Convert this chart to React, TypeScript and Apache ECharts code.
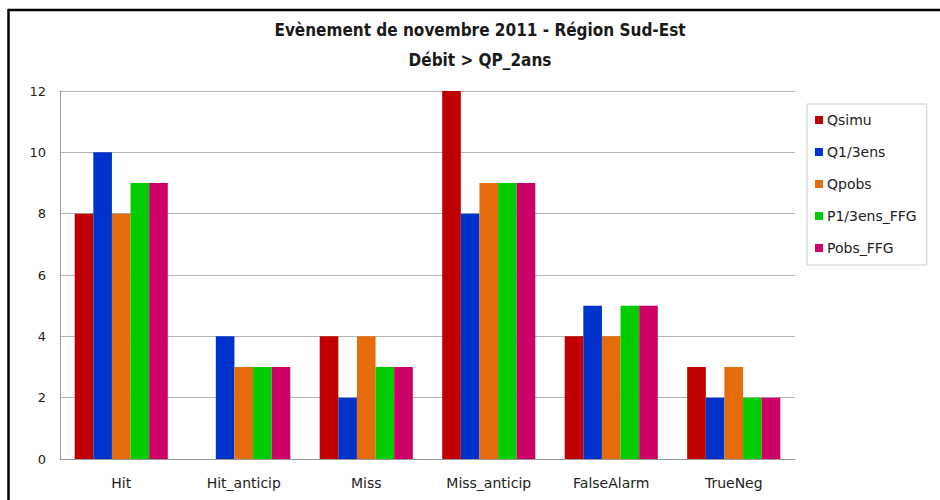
import React, { useEffect, useRef } from "react";
import * as echarts from "echarts";

const categories = ["Hit", "Hit_anticip", "Miss", "Miss_anticip", "FalseAlarm", "TrueNeg"];
const seriesNames = ["Qsimu", "Q1/3ens", "Qpobs", "P1/3ens_FFG", "Pobs_FFG"];
const qsimu = [8, 0, 4, 12, 4, 3];
const q13ens = [10, 4, 2, 8, 5, 2];
const qpobs = [8, 3, 4, 9, 4, 3];
const p13ensFFG = [9, 3, 3, 9, 5, 2];
const pobsFFG = [9, 3, 3, 9, 5, 2];
const colors = ["#C00000", "#0033CC", "#E46C0A", "#00CC00", "#CC0066"];
const yTicks = { min: 0, max: 12, interval: 2 };

export default function App() {
  const ref = useRef<HTMLDivElement>(null);
  useEffect(() => {
    document.body.style.margin = "0";
    if (!ref.current) return;
    const chart = echarts.init(ref.current, null, { renderer: "svg" });
    const values = [qsimu, q13ens, qpobs, p13ensFFG, pobsFFG];
    const font = "Tahoma, 'DejaVu Sans', sans-serif";
    chart.setOption({
      animation: false,
      backgroundColor: "#ffffff",
      title: {
        text: "Evènement de novembre 2011 - Région Sud-Est\nDébit > QP_2ans",
        left: 480,
        top: 15,
        textAlign: "center",
        padding: 0,
        textStyle: {
          fontFamily: "'DejaVu Sans Condensed', 'DejaVu Sans', sans-serif",
          fontWeight: "bold",
          fontSize: 17,
          lineHeight: 30,
          color: "#1a1a1a",
        },
      },
      legend: {
        orient: "vertical",
        left: 807,
        top: 104,
        width: 115,
        padding: [9, 10, 10, 8],
        borderColor: "#cccccc",
        borderWidth: 1,
        itemWidth: 8,
        itemHeight: 8,
        itemGap: 18,
        icon: "rect",
        textStyle: { fontFamily: font, fontSize: 14, color: "#222", padding: [0, 0, 0, -1] },
        data: seriesNames,
      },
      grid: { left: 60, right: 145, top: 91, bottom: 41, containLabel: false },
      xAxis: {
        type: "category",
        data: categories,
        axisLine: { lineStyle: { color: "#999", width: 1 } },
        axisTick: { show: false },
        axisLabel: { fontFamily: font, fontSize: 14, color: "#222", margin: 17 },
      },
      yAxis: {
        type: "value",
        min: yTicks.min,
        max: yTicks.max,
        interval: yTicks.interval,
        axisLine: { show: true, lineStyle: { color: "#999", width: 1 } },
        axisTick: { show: false },
        splitLine: { lineStyle: { color: "#b3b3b3", width: 1 } },
        axisLabel: { fontFamily: font, fontSize: 13, color: "#222", margin: 14 },
      },
      series: seriesNames.map((name, i) => ({
        name,
        type: "bar",
        data: values[i],
        barGap: "0%",
        barCategoryGap: "24%",
        itemStyle: { color: colors[i] },
      })),
      graphic: [
        { type: "line", shape: { x1: 8, y1: 10, x2: 940, y2: 10 }, style: { stroke: "#000", lineWidth: 2.5 } },
        { type: "line", shape: { x1: 8.5, y1: 9, x2: 8.5, y2: 500 }, style: { stroke: "#000", lineWidth: 2.5 } },
      ],
    });
    return () => chart.dispose();
  }, []);
  return <div ref={ref} style={{ width: 940, height: 500 }} />;
}
